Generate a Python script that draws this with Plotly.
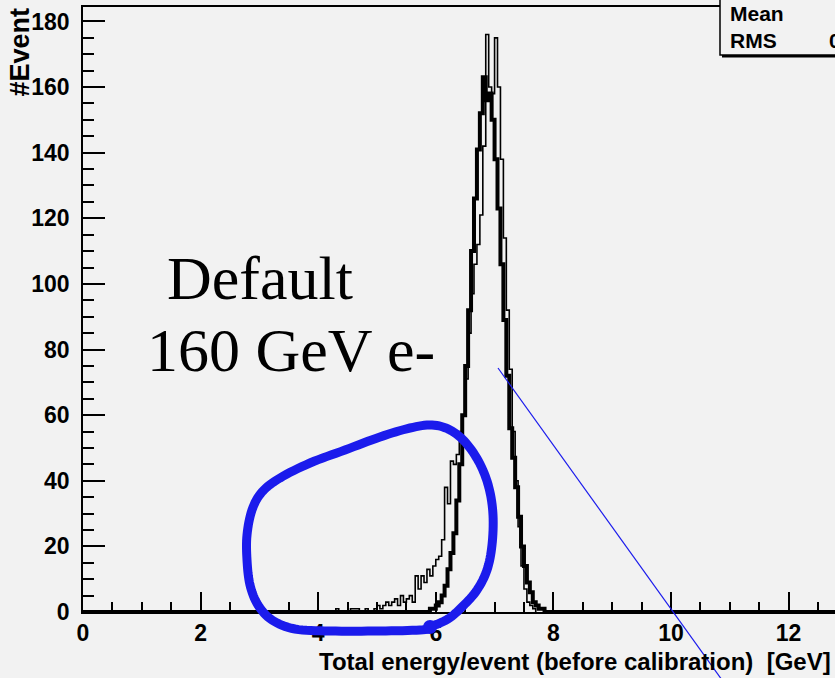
import numpy as np
import plotly.graph_objects as go

# ---- histogram contents (bin width 0.05 GeV) ----
BIN_W = 0.05

# measured spectrum with low-energy tail (thin line)
meas_start = 4.30
meas_counts = [
    1, 0, 0, 0, 0, 1, 1, 1, 0, 0,          # 4.30 - 4.75
    1, 0, 0, 1, 2, 1, 2, 3, 2, 3,          # 4.80 - 5.25
    4, 2, 5, 3, 4, 5, 3, 11, 7, 11,        # 5.30 - 5.75
    9, 13, 11, 14, 16, 17, 22, 38, 33, 46,  # 5.80 - 6.25
    45, 48, 55, 60, 71, 85, 97, 106, 112, 121,  # 6.30 - 6.75
    142, 176, 160, 158, 175, 160, 138, 114, 92, 74,  # 6.80 - 7.25
    55, 40, 26, 14, 7, 3, 2, 1,            # 7.30 - 7.65
]

# reference spectrum (thick line)
ref_start = 5.80
ref_counts = [
    0, 0, 1, 1, 2, 3, 5, 8, 13, 18,        # 5.80 - 6.25
    24, 34, 45, 60, 75, 92, 110, 126, 141, 152,  # 6.30 - 6.75
    163, 156, 158, 150, 138, 123, 106, 89, 72, 56,  # 6.80 - 7.25
    47, 38, 29, 20, 14, 9, 6, 3, 2, 1,     # 7.30 - 7.75
    1, 0,                                  # 7.80 - 7.85
]

X_MAX = 12.79
Y_MAX = 184.4

x_tickvals = [0, 2, 4, 6, 8, 10, 12]
y_tickvals = [0, 20, 40, 60, 80, 100, 120, 140, 160, 180]

x_title = "Total energy/event (before calibration)\u00a0\u00a0[GeV]"
y_title = "#Event"
label_line1 = "Default"
label_line2 = "160 GeV e-"
stat_labels = ["Mean", "RMS"]

BG = "#f2f2f2"
BLUE = "#1b1bec"
SANS = "Liberation Sans, Arial, sans-serif"
SERIF = "Liberation Serif, Times New Roman, serif"


def step_xy(start, counts, lo=None, hi=None):
    """Edges/values for an 'hv' staircase, padded with empty bins."""
    counts = list(counts)
    if lo is not None:
        n_pre = int(round((start - lo) / BIN_W))
        counts = [0] * n_pre + counts
        start = lo
    if hi is not None:
        n_post = int(round((hi - (start + len(counts) * BIN_W)) / BIN_W))
        counts = counts + [0] * max(n_post, 0)
    edges = start + BIN_W * np.arange(len(counts) + 1)
    xs = [edges[0]] + list(edges[:-1]) + [edges[-1]]
    ys = [0] + counts + [0]
    return xs, ys


fig = go.Figure()

mx, my = step_xy(meas_start, meas_counts)
fig.add_trace(go.Scatter(x=mx, y=my, mode="lines", line_shape="hv",
                         line=dict(color="black", width=1.6),
                         hoverinfo="skip", showlegend=False))

rx, ry = step_xy(ref_start, ref_counts, lo=0.0, hi=13.0)
fig.add_trace(go.Scatter(x=rx, y=ry, mode="lines", line_shape="hv",
                         line=dict(color="black", width=4),
                         hoverinfo="skip", showlegend=False))

# ---- page geometry helpers (pixel -> paper) ----
W, H = 835, 678
ML, MR, MT, MB = 83, 0, 7, 66
PW, PH = W - ML - MR, H - MT - MB


def fx(px):
    return (px - ML) / PW


def fy(py):
    return (H - MB - py) / PH


# hand-drawn loop around the low-energy tail
loop_px = [(430, 627), (448, 619), (463, 606), (477, 590), (487, 570),
           (492, 545), (493, 515), (489, 488), (480, 464), (466, 443),
           (450, 430), (432, 425), (410, 428), (380, 437), (345, 450),
           (310, 463), (280, 478), (262, 492), (252, 510), (247, 535),
           (247, 560), (250, 585), (258, 605), (272, 620), (295, 629),
           (330, 631), (380, 631), (420, 630), (432, 628)]


def catmull_rom(pts, n=8):
    out = []
    p = [pts[0]] + pts + [pts[-1]]
    for i in range(1, len(p) - 2):
        p0, p1, p2, p3 = (np.array(p[i - 1]), np.array(p[i]),
                          np.array(p[i + 1]), np.array(p[i + 2]))
        for t in np.linspace(0, 1, n, endpoint=False):
            t2, t3 = t * t, t * t * t
            q = 0.5 * ((2 * p1) + (-p0 + p2) * t +
                       (2 * p0 - 5 * p1 + 4 * p2 - p3) * t2 +
                       (-p0 + 3 * p1 - 3 * p2 + p3) * t3)
            out.append(q)
    out.append(np.array(pts[-1]))
    return out


curve = catmull_rom(loop_px)
path = "M " + " L ".join(f"{fx(q[0]):.5f},{fy(q[1]):.5f}" for q in curve)

shapes = [
    dict(type="path", path=path, xref="paper", yref="paper",
         line=dict(color=BLUE, width=9), layer="above"),
    dict(type="circle", xref="paper", yref="paper",
         x0=fx(423), x1=fx(437), y0=fy(634), y1=fy(620),
         fillcolor=BLUE, line=dict(width=0), layer="above"),
    # pointer line
    dict(type="line", xref="paper", yref="paper",
         x0=fx(498), y0=fy(368), x1=fx(722), y1=fy(680),
         line=dict(color=BLUE, width=1.2), layer="above"),
    # statistics box with shadow
    dict(type="rect", xref="paper", yref="paper",
         x0=fx(722), x1=fx(840), y0=fy(57.5), y1=fy(54.5),
         fillcolor="black", line=dict(width=0), layer="above"),
    dict(type="rect", xref="paper", yref="paper",
         x0=fx(720), x1=fx(860), y0=fy(55), y1=fy(-20),
         fillcolor=BG, line=dict(color="black", width=1.5), layer="above"),
]

annotations = [
    dict(text=x_title, xref="paper", yref="paper", x=fx(833), y=fy(661),
         xanchor="right", yanchor="middle", showarrow=False,
         font=dict(family=SANS, size=24, color="black", weight=700)),
    dict(text=y_title, xref="paper", yref="paper", x=fx(19), y=fy(6),
         xanchor="center", yanchor="top", textangle=-90, showarrow=False,
         font=dict(family=SANS, size=27, color="black", weight=700)),
    dict(text=label_line1, xref="paper", yref="paper", x=fx(165), y=fy(278),
         xanchor="left", yanchor="middle", showarrow=False,
         font=dict(family=SERIF, size=62, color="black")),
    dict(text=label_line2, xref="paper", yref="paper", x=fx(145), y=fy(350),
         xanchor="left", yanchor="middle", showarrow=False,
         font=dict(family=SERIF, size=62, color="black")),
    dict(text=stat_labels[0], xref="paper", yref="paper", x=fx(728), y=fy(14),
         xanchor="left", yanchor="middle", showarrow=False,
         font=dict(family=SANS, size=21, color="black", weight=700)),
    dict(text=stat_labels[1], xref="paper", yref="paper", x=fx(728), y=fy(40),
         xanchor="left", yanchor="middle", showarrow=False,
         font=dict(family=SANS, size=21, color="black", weight=700)),
    dict(text="0", xref="paper", yref="paper", x=fx(827), y=fy(40),
         xanchor="left", yanchor="middle", showarrow=False,
         font=dict(family=SANS, size=21, color="black", weight=700)),
]

fig.update_layout(
    width=W, height=H,
    margin=dict(l=ML, r=MR, t=MT, b=MB, pad=0),
    paper_bgcolor=BG, plot_bgcolor=BG,
    showlegend=False,
    shapes=shapes, annotations=annotations,
)

fig.update_xaxes(
    range=[0, X_MAX], tickvals=x_tickvals, ticks="inside",
    ticklen=20, tickwidth=1.5, tickcolor="black",
    minor=dict(dtick=0.5, tick0=0, ticks="inside", ticklen=10,
               tickwidth=1.5, tickcolor="black", showgrid=False),
    showline=True, linecolor="black", linewidth=1.5, mirror=True,
    showgrid=False, zeroline=False, ticklabelstandoff=0,
    tickfont=dict(family=SANS, size=23, color="black", weight=700),
)
fig.update_yaxes(
    range=[0, Y_MAX], tickvals=y_tickvals, ticks="inside",
    ticklen=22, tickwidth=1.5, tickcolor="black",
    minor=dict(dtick=5, tick0=0, ticks="inside", ticklen=11,
               tickwidth=1.5, tickcolor="black", showgrid=False),
    showline=True, linecolor="black", linewidth=1.5,
    showgrid=False, zeroline=False, ticklabelstandoff=7,
    tickfont=dict(family=SANS, size=23, color="black", weight=700),
)

fig.write_html("out.html")
